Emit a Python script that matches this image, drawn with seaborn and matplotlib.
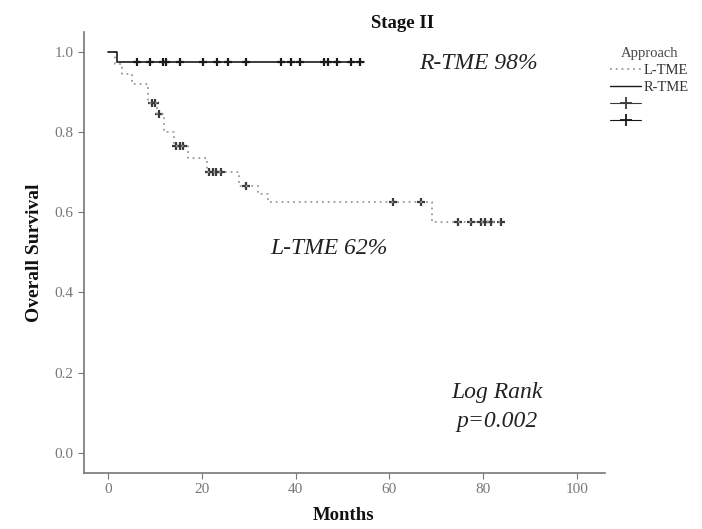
import numpy as np
import pandas as pd
import matplotlib
matplotlib.use("Agg")
import matplotlib.pyplot as plt
from matplotlib.lines import Line2D
import seaborn as sns

# ---- data ----
l_times = [0, 1.5, 3, 5, 8.5, 10.5, 12, 14, 17, 21, 28, 32, 34, 69, 84.4]
l_surv = [1.0, 0.97, 0.945, 0.92, 0.873, 0.845, 0.80, 0.765, 0.735, 0.70, 0.665, 0.645, 0.625, 0.575, 0.575]
l_censor = [9.3, 10.0, 10.8, 14.5, 15.3, 16.0, 21.5, 22.3, 23.0, 24.0, 29.5,
            60.7, 66.7, 74.6, 77.4, 79.5, 80.3, 81.6, 83.8]

r_times = [0, 1.8, 54.5]
r_surv = [1.0, 0.975, 0.975]
r_censor = [6.2, 9.0, 11.8, 12.4, 15.4, 20.3, 23.3, 25.6, 29.3, 36.8, 38.9,
            41.0, 46.0, 46.8, 48.9, 51.7, 53.8]

groups = ["L-TME", "R-TME"]
x_ticks = [0, 20, 40, 60, 80, 100]
y_ticks = [0.0, 0.2, 0.4, 0.6, 0.8, 1.0]


def step_value(times, surv, t):
    idx = np.searchsorted(np.asarray(times), t, side="right") - 1
    return np.asarray(surv)[idx]


curve_l = pd.DataFrame({"Months": l_times, "Survival": l_surv})
curve_r = pd.DataFrame({"Months": r_times, "Survival": r_surv})
cens_l = pd.DataFrame({"Months": l_censor,
                       "Survival": [step_value(l_times, l_surv, t) for t in l_censor]})
cens_r = pd.DataFrame({"Months": r_censor,
                       "Survival": [step_value(r_times, r_surv, t) for t in r_censor]})

sns.set_theme(style="white")
plt.rcParams["font.family"] = ["Liberation Serif", "DejaVu Serif"]

fig = plt.figure(figsize=(7.02, 5.29), dpi=100)
ax = fig.add_axes([0.12, 0.106, 0.742, 0.834])

l_color = "#9a9a9a"
r_color = "#1a1a1a"

sns.lineplot(data=curve_l, x="Months", y="Survival", ax=ax, drawstyle="steps-post",
             color=l_color, linewidth=1.3, linestyle=(0, (1, 2.2)), estimator=None)
sns.lineplot(data=curve_r, x="Months", y="Survival", ax=ax, drawstyle="steps-post",
             color=r_color, linewidth=1.2, estimator=None)
sns.scatterplot(data=cens_l, x="Months", y="Survival", ax=ax, marker="+",
                color="#3a3a3a", s=40, linewidth=1.6)
sns.scatterplot(data=cens_r, x="Months", y="Survival", ax=ax, marker="+",
                color=r_color, s=40, linewidth=1.6)

ax.set_xlim(-5.1, 106)
ax.set_ylim(-0.05, 1.05)
ax.set_xticks(x_ticks)
ax.set_yticks(y_ticks)
ax.set_xticklabels([str(v) for v in x_ticks])
ax.set_yticklabels([f"{v:.1f}" for v in y_ticks])
for s in ["top", "right"]:
    ax.spines[s].set_visible(False)
for s in ["left", "bottom"]:
    ax.spines[s].set_color("#777777")
    ax.spines[s].set_linewidth(1.2)
ax.tick_params(axis="both", which="both", length=4, width=0.8, color="#777777",
               labelsize=11, labelcolor="#777777", direction="out", left=True, bottom=True)

ax.set_xlabel("Months", fontsize=13.5, fontweight="bold", color="#111111")
ax.set_ylabel("Overall Survival", fontsize=14, fontweight="bold", color="#111111")
ax.xaxis.set_label_coords(0.497, -0.077)
ax.yaxis.set_label_coords(-0.08, 0.5)
fig.text(0.573, 0.956, "Stage II", fontsize=13.5, fontweight="bold", color="#111111",
         ha="center", va="center")

txt_kw = dict(style="italic", fontsize=17, color="#222222", ha="center", va="center")
ax.text(79, 0.97, "R-TME 98%", **txt_kw)
ax.text(47, 0.51, "L-TME 62%", **txt_kw)
ax.text(83, 0.15, "Log Rank", **txt_kw)
ax.text(83, 0.078, "p=0.002", **txt_kw)

handles = [
    Line2D([], [], color=l_color, linestyle=(0, (1, 2.2)), linewidth=1.3),
    Line2D([], [], color=r_color, linestyle="-", linewidth=1.0),
    Line2D([], [], color="#3a3a3a", marker="+", markersize=8, markeredgewidth=1.3,
           linestyle="-", linewidth=0.8),
    Line2D([], [], color=r_color, marker="+", markersize=8, markeredgewidth=1.3,
           linestyle="-", linewidth=0.8),
]
labels = groups + ["", ""]
leg = fig.legend(handles, labels, title="Approach", loc="upper left",
                 bbox_to_anchor=(0.855, 0.93), frameon=False, fontsize=10.5,
                 title_fontsize=10.5, handlelength=2.1, handletextpad=0.15,
                 labelspacing=0.25, borderpad=0.2)
for t in leg.get_texts():
    t.set_color("#333333")
leg.get_title().set_color("#444444")

fig.savefig("out.png", dpi=100)
